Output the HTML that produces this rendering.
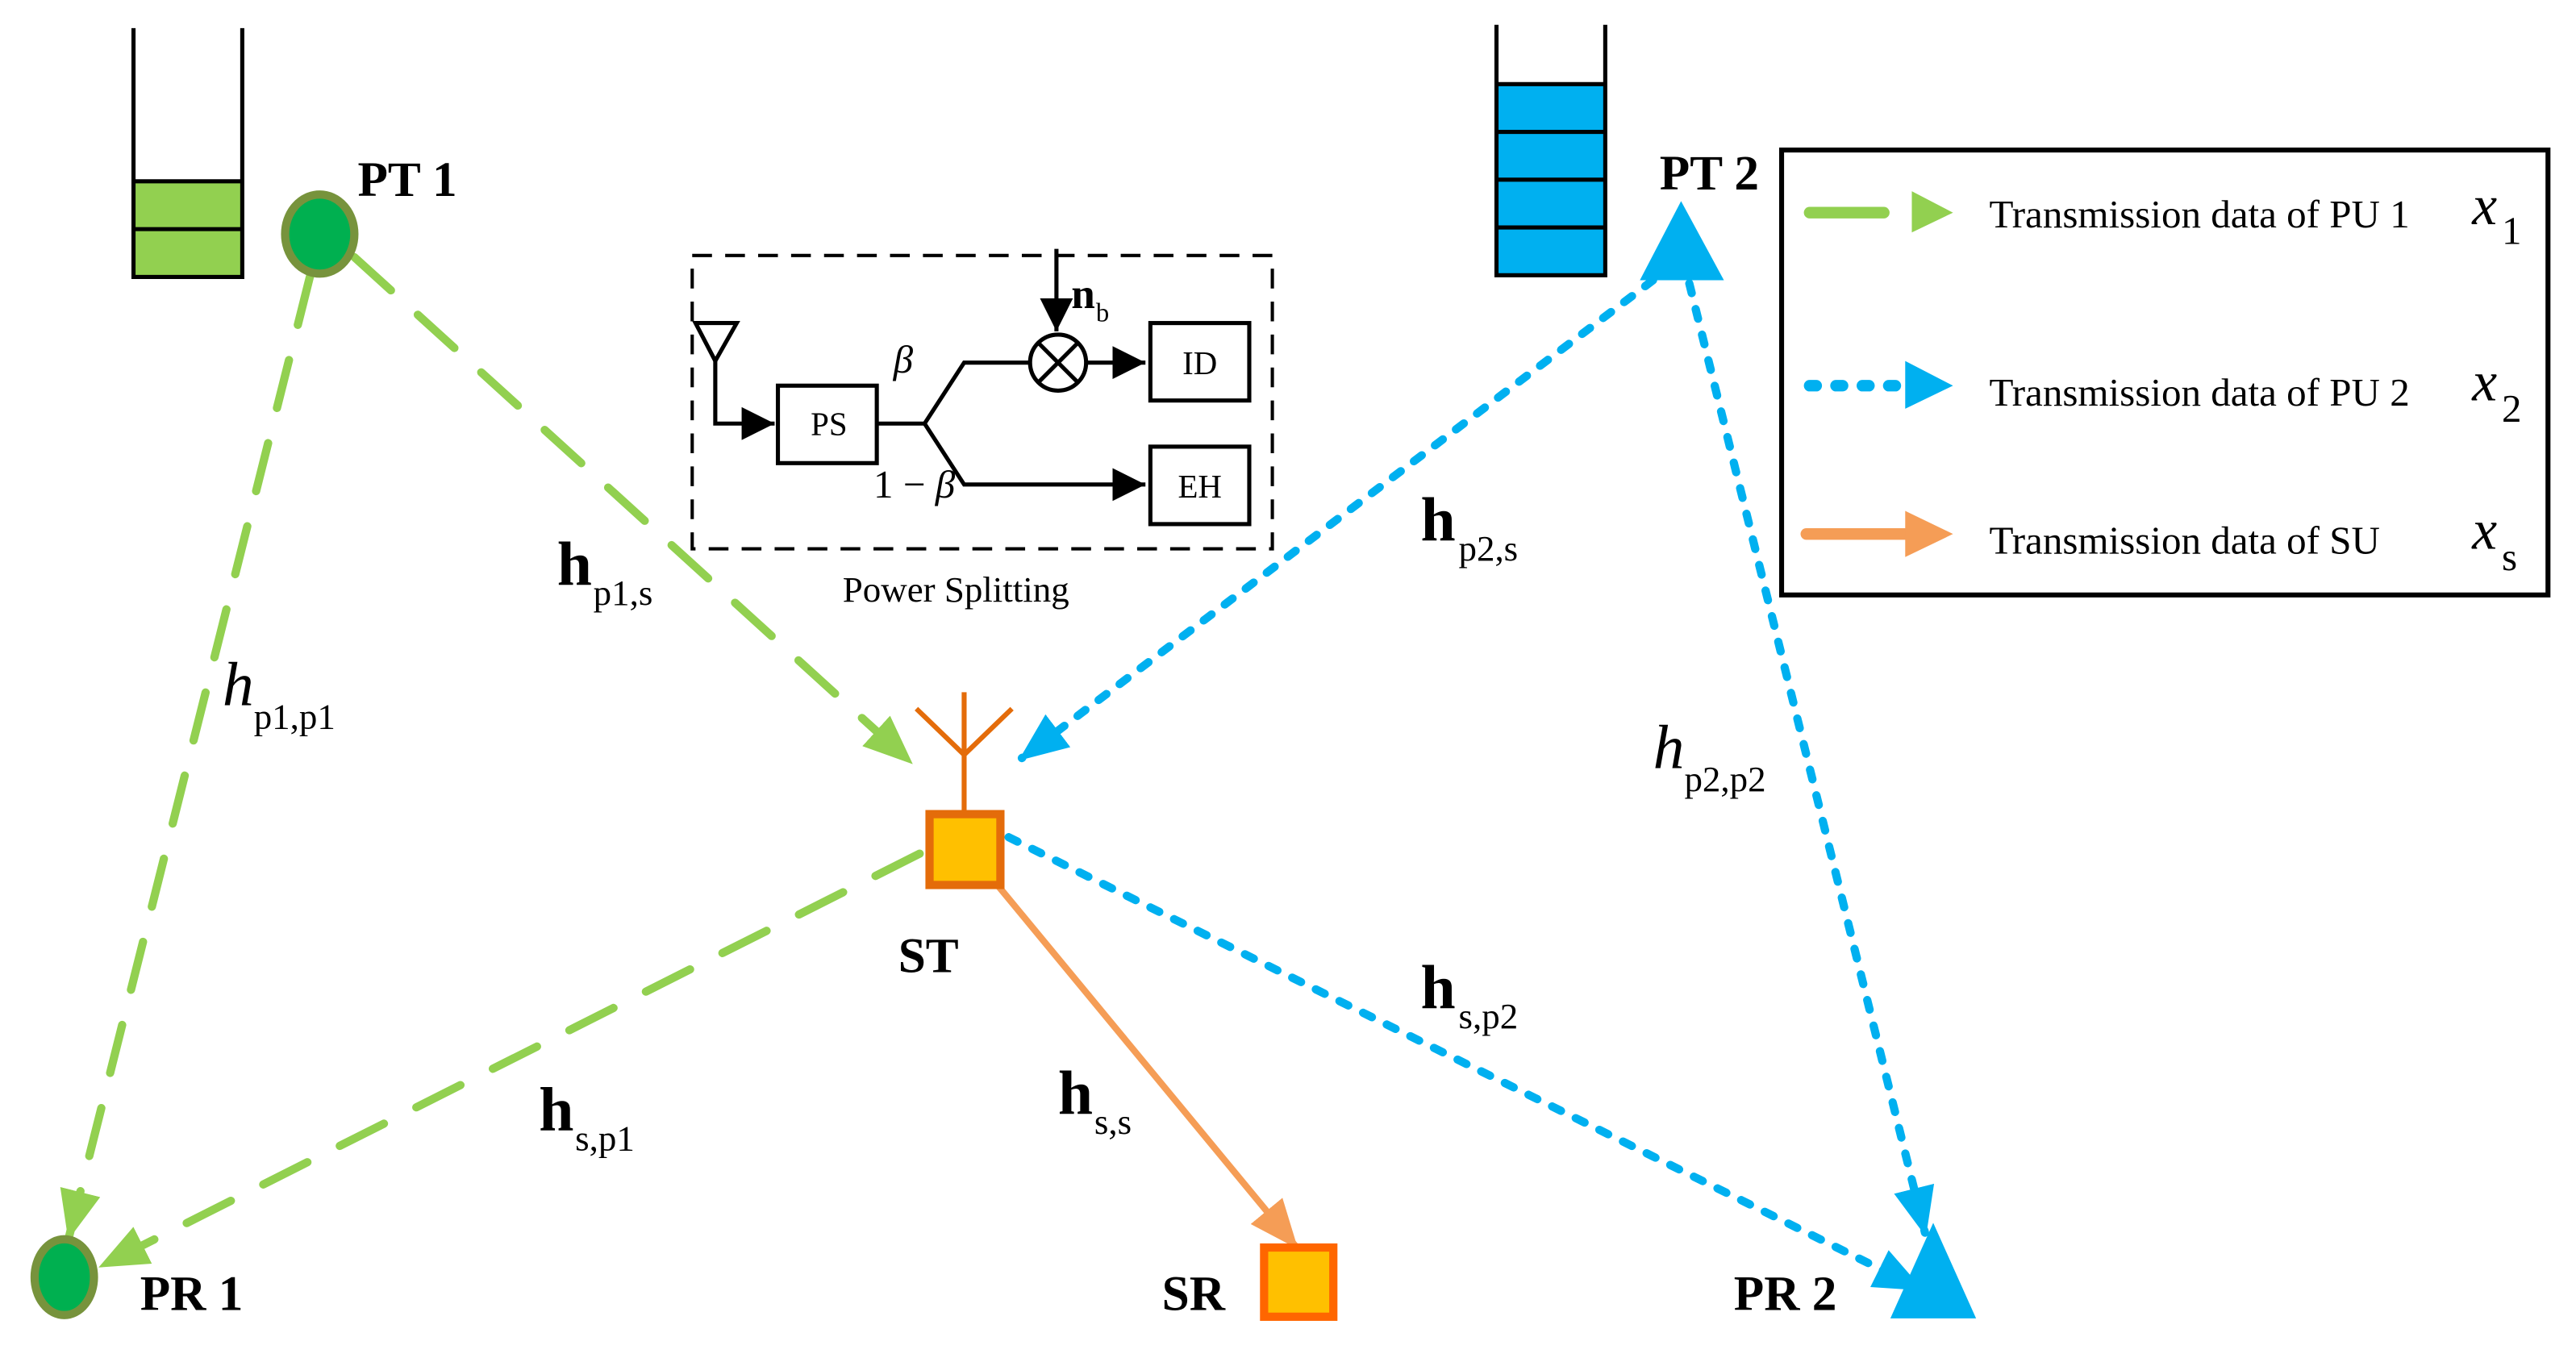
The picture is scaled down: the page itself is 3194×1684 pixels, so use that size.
<!DOCTYPE html>
<html><head><meta charset="utf-8"><style>
html,body{margin:0;padding:0;background:#fff}
svg{display:block}
text{font-family:"Liberation Serif",serif;fill:#000}
</style></head><body>
<svg width="3194" height="1684" viewBox="0 0 1563 824" xmlns="http://www.w3.org/2000/svg">
<defs>
<marker id="ag" markerUnits="userSpaceOnUse" markerWidth="30" markerHeight="30" refX="22" refY="10" orient="auto" viewBox="0 0 24 20"><path d="M0,0 L24,10 L0,20 Z" fill="#92d050"/></marker>
<marker id="ab" markerUnits="userSpaceOnUse" markerWidth="30" markerHeight="30" refX="22" refY="10" orient="auto" viewBox="0 0 24 20"><path d="M0,0 L24,10 L0,20 Z" fill="#00b0f0"/></marker>
<marker id="ao" markerUnits="userSpaceOnUse" markerWidth="30" markerHeight="30" refX="22" refY="10" orient="auto" viewBox="0 0 24 20"><path d="M0,0 L24,10 L0,20 Z" fill="#f59d56"/></marker>
<marker id="ak" markerUnits="userSpaceOnUse" markerWidth="20" markerHeight="20" refX="14" refY="7" orient="auto" viewBox="0 0 14 14"><path d="M0,0 L14,7 L0,14 Z" fill="#000"/></marker>
</defs>

<!-- PT1 queue -->
<rect x="81" y="110" width="66" height="58" fill="#92d050"/>
<path d="M81,17 V168 H147 V17 M81,110 H147 M81,139 H147" fill="none" stroke="#000" stroke-width="2.5"/>
<!-- PT2 queue -->
<rect x="908" y="51" width="66" height="116" fill="#00b0f0"/>
<path d="M908,15 V167 H974 V15 M908,51 H974 M908,80 H974 M908,109 H974 M908,138 H974" fill="none" stroke="#000" stroke-width="2.5"/>

<!-- connectors -->
<g fill="none" stroke-linecap="round">
<line x1="188" y1="168" x2="42" y2="750" stroke="#92d050" stroke-width="5" stroke-dasharray="30 22" marker-end="url(#ag)"/>
<line x1="215" y1="156" x2="552" y2="462" stroke="#92d050" stroke-width="5" stroke-dasharray="30 22" marker-end="url(#ag)"/>
<line x1="558" y1="518" x2="62" y2="768" stroke="#92d050" stroke-width="5" stroke-dasharray="30 22" marker-end="url(#ag)"/>
<line x1="1003" y1="170" x2="620" y2="460" stroke="#00b0f0" stroke-width="5" stroke-dasharray="6 10" marker-end="url(#ab)"/>
<line x1="1025" y1="172" x2="1168" y2="748" stroke="#00b0f0" stroke-width="5" stroke-dasharray="6 10" marker-end="url(#ab)"/>
<line x1="612" y1="508" x2="1165" y2="782" stroke="#00b0f0" stroke-width="5" stroke-dasharray="6 10" marker-end="url(#ab)"/>
<line x1="606" y1="538" x2="786" y2="756" stroke="#f59d56" stroke-width="4" marker-end="url(#ao)"/>
</g>

<!-- nodes -->
<ellipse cx="194" cy="142" rx="21" ry="24" fill="#00b050" stroke="#77933c" stroke-width="5"/>
<ellipse cx="39" cy="775" rx="18" ry="23" fill="#00b050" stroke="#77933c" stroke-width="5"/>
<path d="M1020,122 L1046,170 L995,170 Z" fill="#00b0f0"/>
<path d="M1173,742 L1199,800 L1147,800 Z" fill="#00b0f0"/>
<rect x="564" y="494" width="43" height="43" fill="#ffc000" stroke="#e46c0a" stroke-width="5"/>
<rect x="767" y="757" width="42" height="42" fill="#ffc000" stroke="#ff6600" stroke-width="5"/>
<path d="M585,420 V494 M556,430 L585,458 L614,430" fill="none" stroke="#e46c0a" stroke-width="3"/>

<!-- labels -->
<g font-weight="bold" font-size="30">
<text x="217" y="119">PT 1</text>
<text x="1007" y="115">PT 2</text>
<text x="545" y="590">ST</text>
<text x="85" y="795">PR 1</text>
<text x="705" y="795">SR</text>
<text x="1052" y="795">PR 2</text>
</g>
<g font-size="22">
<text x="338" y="355" font-weight="bold" font-size="38">h</text><text x="360" y="367">p1,s</text>
<text x="862" y="328" font-weight="bold" font-size="38">h</text><text x="885" y="340">p2,s</text>
<text x="327" y="686" font-weight="bold" font-size="38">h</text><text x="349" y="698">s,p1</text>
<text x="642" y="676" font-weight="bold" font-size="38">h</text><text x="664" y="688">s,s</text>
<text x="862" y="612" font-weight="bold" font-size="38">h</text><text x="885" y="624">s,p2</text>
<text x="135" y="428" font-style="italic" font-size="38">h</text><text x="154" y="442">p1,p1</text>
<text x="1003" y="466" font-style="italic" font-size="38">h</text><text x="1022" y="480">p2,p2</text>
</g>

<!-- power splitting -->
<rect x="420" y="155" width="352" height="178" fill="none" stroke="#000" stroke-width="2" stroke-dasharray="12 8"/>
<g fill="none" stroke="#000" stroke-width="2.5">
<path d="M422,196 H447 L434,219 Z"/>
<path d="M434,219 V257 H470" marker-end="url(#ak)"/>
<rect x="472" y="234" width="60" height="47"/>
<path d="M532,257 H561 L585,220 H625"/>
<path d="M561,257 L585,294 H695" marker-end="url(#ak)"/>
<circle cx="642" cy="220" r="17"/>
<path d="M630,208 L654,232 M654,208 L630,232"/>
<path d="M659,220 H695" marker-end="url(#ak)"/>
<path d="M641,151 V201" marker-end="url(#ak)"/>
<rect x="698" y="196" width="60" height="47"/>
<rect x="698" y="271" width="60" height="47"/>
</g>
<g font-size="20">
<text x="503" y="264" text-anchor="middle">PS</text>
<text x="728" y="227" text-anchor="middle">ID</text>
<text x="728" y="302" text-anchor="middle">EH</text>
<text x="580" y="365" text-anchor="middle" font-size="22">Power Splitting</text>
<text x="542" y="226" font-style="italic" font-size="24">β</text>
<text x="530" y="302" font-size="24">1 − <tspan font-style="italic">β</tspan></text>
<text x="650" y="187" font-weight="bold" font-size="26">n</text><text x="665" y="195" font-size="16">b</text>
</g>

<!-- legend -->
<rect x="1081" y="91" width="465" height="270" fill="none" stroke="#000" stroke-width="3"/>
<line x1="1098" y1="129" x2="1143" y2="129" stroke="#92d050" stroke-width="7" stroke-linecap="round"/>
<path d="M1160,116 L1185,129 L1160,141 Z" fill="#92d050"/>
<line x1="1098" y1="234" x2="1150" y2="234" stroke="#00b0f0" stroke-width="7" stroke-linecap="round" stroke-dasharray="4 12"/>
<path d="M1156,219 L1185,234 L1156,248 Z" fill="#00b0f0"/>
<line x1="1096" y1="324" x2="1158" y2="324" stroke="#f59d56" stroke-width="7" stroke-linecap="round"/>
<path d="M1156,310 L1185,324 L1156,338 Z" fill="#f59d56"/>
<g font-size="24">
<text x="1207" y="138">Transmission data of PU 1</text>
<text x="1207" y="246">Transmission data of PU 2</text>
<text x="1207" y="336">Transmission data of SU</text>
<text x="1500" y="136" font-style="italic" font-size="34">x</text><text x="1518" y="148">1</text>
<text x="1500" y="243" font-style="italic" font-size="34">x</text><text x="1518" y="256">2</text>
<text x="1500" y="333" font-style="italic" font-size="34">x</text><text x="1518" y="346">s</text>
</g>
</svg>
</body></html>
